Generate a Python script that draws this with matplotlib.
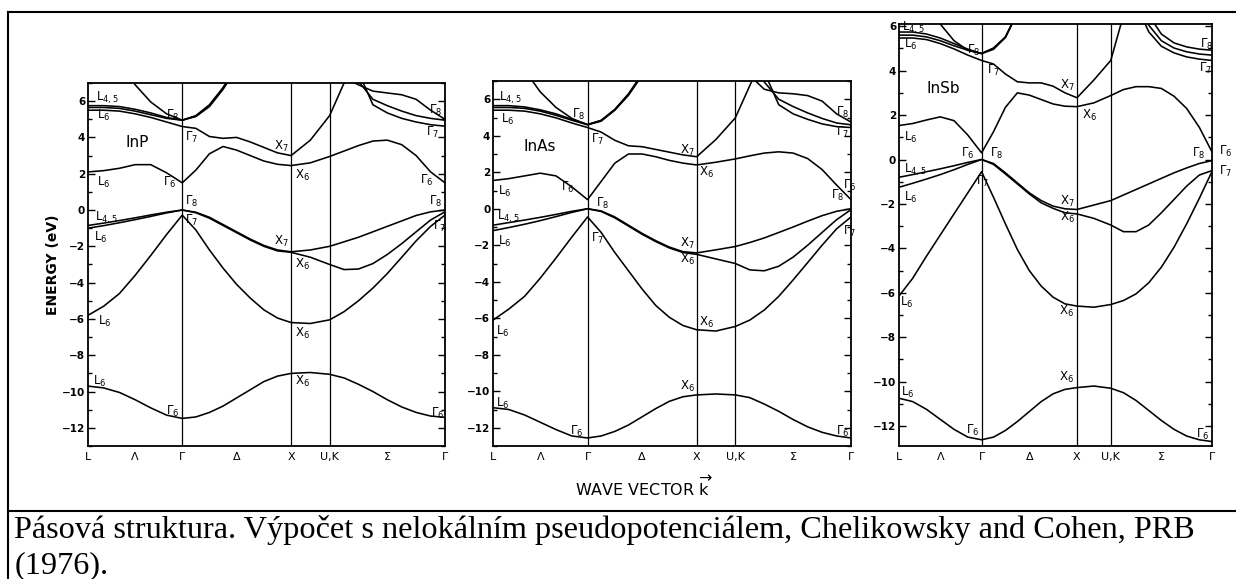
import matplotlib
matplotlib.use("Agg")
import matplotlib.pyplot as plt
from matplotlib.lines import Line2D
from matplotlib.ticker import MultipleLocator

plt.rcParams['font.family'] = 'DejaVu Sans'
plt.rcParams['mathtext.default'] = 'regular'

# k along L - Gamma - X - U,K - Gamma
k = [0.0, 0.144, 0.289, 0.433, 0.577, 0.722, 0.866,
     0.991, 1.116, 1.241, 1.366, 1.491, 1.616, 1.741, 1.866,
     2.043, 2.220,
     2.353, 2.485, 2.618, 2.750, 2.883, 3.015, 3.148, 3.280]
sym_k = [0.0, 0.433, 0.866, 1.366, 1.866, 2.220, 2.750, 3.280]
sym_lab = ['L', 'Λ', 'Γ', 'Δ', 'X', 'U,K', 'Σ', 'Γ']
vlines = [0.866, 1.866, 2.220]

# InP
inp_b1 = [-9.70, -9.80, -10.05, -10.45, -10.90, -11.30, -11.48, -11.40, -11.15, -10.80, -10.35, -9.90, -9.45, -9.15, -9.00, -8.95, -9.05, -9.25, -9.60, -10.00, -10.45, -10.85, -11.15, -11.35, -11.42]
inp_b2 = [-5.80, -5.30, -4.60, -3.60, -2.50, -1.35, -0.28, -1.10, -2.20, -3.20, -4.10, -4.85, -5.50, -5.95, -6.20, -6.25, -6.05, -5.60, -5.00, -4.30, -3.50, -2.60, -1.70, -0.90, -0.28]
inp_b3 = [-1.00, -0.86, -0.70, -0.53, -0.35, -0.16, 0.00, -0.15, -0.45, -0.85, -1.25, -1.65, -2.00, -2.25, -2.33, -2.60, -3.00, -3.28, -3.25, -2.95, -2.45, -1.85, -1.20, -0.55, -0.10]
inp_b4 = [-0.85, -0.72, -0.58, -0.43, -0.27, -0.12, 0.00, -0.12, -0.40, -0.80, -1.20, -1.60, -1.95, -2.20, -2.30, -2.20, -2.00, -1.75, -1.50, -1.20, -0.90, -0.60, -0.30, -0.10, 0.00]
inp_b5 = [2.10, 2.17, 2.30, 2.50, 2.50, 2.05, 1.50, 2.20, 3.10, 3.50, 3.30, 3.00, 2.70, 2.52, 2.45, 2.60, 2.95, 3.25, 3.55, 3.80, 3.85, 3.60, 3.00, 2.10, 1.50]
inp_b6 = [5.50, 5.50, 5.45, 5.30, 5.10, 4.85, 4.60, 4.50, 4.05, 3.95, 4.00, 3.75, 3.45, 3.15, 3.00, 3.85, 5.20, 7.00, 8.50, 9.50, 9.50, 9.50, 9.50, 9.50, 9.50]
inp_b7 = [5.65, 5.65, 5.60, 5.45, 5.25, 5.05, 4.95, 5.18, 5.75, 6.70, 7.90, 9.50, 9.50, 9.50, 9.50, 9.50, 9.50, 9.50, 7.60, 5.80, 5.35, 5.05, 4.85, 4.70, 4.62]
inp_b8 = [5.75, 5.75, 5.70, 5.55, 5.35, 5.10, 4.95, 5.20, 5.80, 6.75, 7.95, 9.50, 9.50, 9.50, 9.50, 9.50, 9.50, 9.50, 7.10, 6.10, 5.75, 5.45, 5.20, 5.05, 4.95]
inp_b9 = [12.0, 10.0, 8.20, 6.90, 5.95, 5.30, 4.95, 5.15, 5.70, 6.65, 7.80, 9.50, 9.50, 9.50, 9.50, 9.50, 9.50, 7.30, 6.90, 6.55, 6.45, 6.35, 6.10, 5.50, 5.00]

# InAs
inas_b1 = [-10.90, -11.00, -11.30, -11.70, -12.10, -12.45, -12.56, -12.45, -12.20, -11.85, -11.40, -10.95, -10.55, -10.30, -10.20, -10.15, -10.20, -10.35, -10.70, -11.10, -11.55, -11.95, -12.25, -12.45, -12.56]
inas_b2 = [-6.10, -5.50, -4.80, -3.80, -2.70, -1.55, -0.45, -1.30, -2.40, -3.40, -4.40, -5.30, -5.95, -6.40, -6.63, -6.70, -6.45, -6.10, -5.55, -4.80, -3.90, -2.95, -2.00, -1.10, -0.45]
inas_b3 = [-1.20, -1.03, -0.85, -0.65, -0.43, -0.20, 0.00, -0.15, -0.50, -0.95, -1.40, -1.80, -2.15, -2.40, -2.50, -2.75, -3.00, -3.35, -3.40, -3.15, -2.65, -2.00, -1.30, -0.60, -0.05]
inas_b4 = [-0.90, -0.76, -0.62, -0.47, -0.31, -0.14, 0.00, -0.12, -0.45, -0.90, -1.35, -1.75, -2.10, -2.35, -2.42, -2.25, -2.07, -1.85, -1.60, -1.30, -1.00, -0.68, -0.38, -0.14, 0.00]
inas_b5 = [1.55, 1.65, 1.80, 1.95, 1.80, 1.20, 0.50, 1.50, 2.50, 3.00, 3.00, 2.85, 2.65, 2.50, 2.40, 2.55, 2.73, 2.90, 3.05, 3.12, 3.05, 2.75, 2.15, 1.30, 0.50]
inas_b6 = [5.40, 5.40, 5.35, 5.20, 4.98, 4.70, 4.45, 4.20, 3.75, 3.45, 3.40, 3.25, 3.10, 2.95, 2.85, 3.80, 4.98, 6.75, 8.50, 9.50, 9.50, 9.50, 9.50, 9.50, 9.50]
inas_b7 = [5.55, 5.55, 5.50, 5.35, 5.12, 4.85, 4.60, 4.85, 5.45, 6.30, 7.40, 9.50, 9.50, 9.50, 9.50, 9.50, 9.50, 9.50, 7.50, 5.70, 5.20, 4.90, 4.65, 4.50, 4.45]
inas_b8 = [5.65, 5.65, 5.58, 5.42, 5.20, 4.90, 4.62, 4.83, 5.42, 6.25, 7.35, 9.50, 9.50, 9.50, 9.50, 9.50, 9.50, 9.50, 6.95, 6.00, 5.60, 5.25, 4.95, 4.70, 4.60]
inas_b9 = [11.0, 9.00, 7.60, 6.40, 5.55, 4.95, 4.60, 4.80, 5.40, 6.22, 7.30, 9.50, 9.50, 9.50, 9.50, 9.50, 9.50, 7.30, 6.55, 6.35, 6.30, 6.20, 5.90, 5.20, 4.75]

# InSb
insb_b1 = [-10.75, -10.90, -11.25, -11.70, -12.15, -12.50, -12.62, -12.50, -12.20, -11.80, -11.35, -10.90, -10.55, -10.35, -10.27, -10.20, -10.30, -10.50, -10.85, -11.30, -11.75, -12.15, -12.45, -12.62, -12.70]
insb_b2 = [-6.15, -5.35, -4.35, -3.40, -2.45, -1.50, -0.55, -1.70, -2.90, -4.05, -5.00, -5.70, -6.20, -6.50, -6.60, -6.65, -6.53, -6.35, -6.05, -5.55, -4.85, -3.95, -2.90, -1.75, -0.55]
insb_b3 = [-1.25, -1.07, -0.88, -0.68, -0.46, -0.22, 0.00, -0.22, -0.65, -1.10, -1.55, -1.95, -2.20, -2.40, -2.45, -2.65, -2.95, -3.25, -3.25, -2.95, -2.40, -1.80, -1.20, -0.70, -0.50]
insb_b4 = [-0.80, -0.68, -0.55, -0.42, -0.28, -0.13, 0.00, -0.18, -0.60, -1.05, -1.50, -1.85, -2.10, -2.22, -2.25, -2.05, -1.85, -1.60, -1.35, -1.10, -0.85, -0.60, -0.38, -0.18, -0.05]
insb_b5 = [1.53, 1.62, 1.78, 1.92, 1.75, 1.10, 0.30, 1.25, 2.35, 3.00, 2.90, 2.70, 2.50, 2.40, 2.38, 2.55, 2.88, 3.15, 3.28, 3.28, 3.20, 2.85, 2.30, 1.45, 0.35]
insb_b6 = [5.47, 5.47, 5.40, 5.22, 4.98, 4.70, 4.46, 4.30, 3.85, 3.50, 3.45, 3.45, 3.30, 3.00, 2.78, 3.58, 4.46, 6.50, 8.00, 9.50, 9.50, 9.50, 9.50, 9.50, 9.50]
insb_b7 = [5.60, 5.60, 5.52, 5.35, 5.12, 4.92, 4.77, 5.00, 5.50, 6.60, 8.00, 9.50, 9.50, 9.50, 9.50, 9.50, 9.50, 9.50, 8.30, 6.50, 5.65, 5.25, 5.07, 4.97, 4.92]
insb_b8 = [5.74, 5.74, 5.65, 5.47, 5.22, 4.97, 4.77, 5.02, 5.52, 6.62, 8.00, 9.50, 9.50, 9.50, 9.50, 9.50, 9.50, 9.50, 7.60, 6.05, 5.35, 5.02, 4.85, 4.75, 4.70]
insb_b9 = [11.0, 9.00, 7.30, 6.10, 5.35, 4.92, 4.77, 4.96, 5.50, 6.60, 8.00, 9.50, 9.50, 9.50, 9.50, 9.50, 9.50, 9.50, 7.00, 5.75, 5.10, 4.80, 4.62, 4.52, 4.46]

inp_labels = [
    (r'$L_{4,5}$', 0.18, 6.2), (r'$L_6$', 0.14, 5.2), (r'$\Gamma_8$', 0.78, 5.2), (r'$\Gamma_7$', 0.95, 4.0),
    (r'$X_7$', 1.78, 3.5), (r'$L_6$', 0.14, 1.5), (r'$\Gamma_6$', 0.75, 1.5), (r'$X_6$', 1.97, 1.9),
    (r'$\Gamma_8$', 0.95, 0.45), (r'$L_{4,5}$', 0.17, -0.45), (r'$\Gamma_7$', 0.95, -0.6), (r'$L_6$', 0.12, -1.5),
    (r'$X_7$', 1.78, -1.75), (r'$X_6$', 1.97, -3.0), (r'$L_6$', 0.15, -6.15), (r'$X_6$', 1.97, -6.8),
    (r'$L_6$', 0.11, -9.45), (r'$X_6$', 1.97, -9.45), (r'$\Gamma_6$', 0.78, -11.1),
    (r'$\Gamma_8$', 3.19, 5.5), (r'$\Gamma_7$', 3.17, 4.3), (r'$\Gamma_6$', 3.11, 1.65),
    (r'$\Gamma_8$', 3.19, 0.45), (r'$\Gamma_7$', 3.23, -0.9), (r'$\Gamma_6$', 3.21, -11.2)]
inas_labels = [
    (r'$L_{4,5}$', 0.16, 6.1), (r'$L_6$', 0.13, 4.9), (r'$\Gamma_8$', 0.78, 5.15), (r'$\Gamma_7$', 0.96, 3.8),
    (r'$X_7$', 1.78, 3.2), (r'$X_6$', 1.96, 2.0), (r'$L_6$', 0.11, 0.95), (r'$\Gamma_6$', 0.68, 1.15),
    (r'$\Gamma_8$', 1.0, 0.3), (r'$L_{4,5}$', 0.14, -0.42), (r'$L_6$', 0.11, -1.8), (r'$\Gamma_7$', 0.96, -1.6),
    (r'$X_7$', 1.78, -1.9), (r'$X_6$', 1.78, -2.8), (r'$L_6$', 0.09, -6.7), (r'$X_6$', 1.96, -6.25),
    (r'$L_6$', 0.09, -10.65), (r'$X_6$', 1.78, -9.75), (r'$\Gamma_6$', 0.77, -12.2),
    (r'$\Gamma_8$', 3.2, 5.25), (r'$\Gamma_7$', 3.2, 4.2), (r'$\Gamma_6$', 3.27, 1.3),
    (r'$\Gamma_8$', 3.16, 0.75), (r'$\Gamma_7$', 3.27, -1.25), (r'$\Gamma_6$', 3.2, -12.2)]
insb_labels = [
    (r'$L_{4,5}$', 0.15, 5.95), (r'$L_6$', 0.12, 5.2), (r'$\Gamma_8$', 0.78, 4.9), (r'$\Gamma_7$', 0.99, 4.0),
    (r'$X_7$', 1.77, 3.35), (r'$X_6$', 2.0, 2.0), (r'$L_6$', 0.12, 1.0), (r'$\Gamma_6$', 0.72, 0.28),
    (r'$\Gamma_8$', 1.02, 0.28), (r'$L_{4,5}$', 0.17, -0.48), (r'$L_6$', 0.12, -1.7), (r'$\Gamma_7$', 0.88, -1.0),
    (r'$X_7$', 1.77, -1.9), (r'$X_6$', 1.77, -2.6), (r'$L_6$', 0.08, -6.45), (r'$X_6$', 1.76, -6.85),
    (r'$L_6$', 0.09, -10.5), (r'$X_6$', 1.76, -9.8), (r'$\Gamma_6$', 0.77, -12.2),
    (r'$\Gamma_8$', 3.23, 5.2), (r'$\Gamma_7$', 3.21, 4.1), (r'$\Gamma_6$', 3.42, 0.35),
    (r'$\Gamma_8$', 3.14, 0.28), (r'$\Gamma_7$', 3.42, -0.55), (r'$\Gamma_6$', 3.18, -12.4)]

panels = [
    ('InP', (0.45, 3.7), [inp_b1, inp_b2, inp_b3, inp_b4, inp_b5, inp_b6, inp_b7, inp_b8, inp_b9],
     inp_labels, (-13, 7), [0.0712, 0.2297, 0.2888, 0.6270]),
    ('InAs', (0.43, 3.4), [inas_b1, inas_b2, inas_b3, inas_b4, inas_b5, inas_b6, inas_b7, inas_b8, inas_b9],
     inas_labels, (-13, 7), [0.3989, 0.2297, 0.2896, 0.6304]),
    ('InSb', (0.46, 3.2), [insb_b1, insb_b2, insb_b3, insb_b4, insb_b5, insb_b6, insb_b7, insb_b8, insb_b9],
     insb_labels, (-12.9, 6.1), [0.7273, 0.2297, 0.2532, 0.7288]),
]

fig = plt.figure(figsize=(12.36, 5.79), dpi=100)

for name, name_pos, bands, labels, ylim, rect in panels:
    ax = fig.add_axes(rect)
    for b in bands:
        ax.plot(k, b, color='k', lw=1.15)
    for v in vlines:
        ax.axvline(v, color='k', lw=0.9)
    ax.set_xlim(k[0], k[-1])
    ax.set_ylim(*ylim)
    ax.yaxis.set_major_locator(MultipleLocator(2))
    ax.yaxis.set_minor_locator(MultipleLocator(1))
    ax.tick_params(axis='y', which='both', direction='in', left=True, right=True,
                   labelsize=7.5, width=1, pad=2)
    ax.tick_params(axis='y', which='major', length=5)
    ax.tick_params(axis='y', which='minor', length=3)
    for t in ax.get_yticklabels():
        t.set_fontweight('bold')
    ax.set_xticks(sym_k, sym_lab)
    ax.tick_params(axis='x', length=0, labelsize=8, pad=4)
    for sp in ax.spines.values():
        sp.set_linewidth(1.3)
    ax.text(name_pos[0], name_pos[1], name, fontsize=11, ha='center', va='center')
    for txt, kx, ey in labels:
        ax.text(kx, ey, txt, fontsize=8.5, ha='center', va='center')

fig.text(0.043, 0.542, 'ENERGY (eV)', rotation=90, fontsize=10, fontweight='bold',
         ha='center', va='center')
fig.text(0.521, 0.16, r'WAVE VECTOR $\overrightarrow{k}$', fontsize=11.5,
         ha='center', va='center')

# table frame around the figure
fig.add_artist(Line2D([0.0065, 1.0], [0.979, 0.979], color='k', lw=1.5))
fig.add_artist(Line2D([0.0065, 0.0065], [0.0, 0.979], color='k', lw=1.5))
fig.add_artist(Line2D([0.0065, 1.0], [0.1174, 0.1174], color='k', lw=1.5))

fig.text(0.0115, 1 - 538 / 579,
         'Pásová struktura. Výpočet s nelokálním pseudopotenciálem, Chelikowsky and Cohen, PRB',
         family='Liberation Serif', fontsize=23.2, va='baseline')
fig.text(0.0115, 1 - 573 / 579, '(1976).', family='Liberation Serif', fontsize=23.2,
         va='baseline')

fig.savefig('out.png', dpi=100)
